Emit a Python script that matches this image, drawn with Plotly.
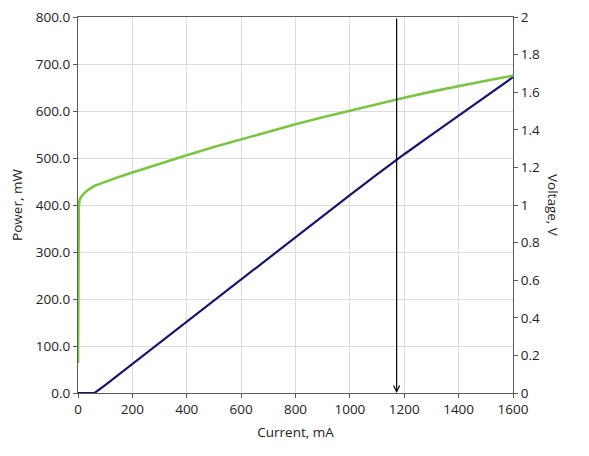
import plotly.graph_objects as go

# Voltage curve (right axis)
v_current = [0, 1, 2, 3, 5, 10, 20, 35, 60, 100, 150, 200, 300, 400, 500, 600, 700,
             800, 900, 1000, 1100, 1200, 1300, 1400, 1500, 1600]
v_voltage = [0.16, 0.55, 0.88, 0.99, 1.02, 1.04, 1.058, 1.078, 1.102, 1.124, 1.149, 1.173,
             1.22, 1.265, 1.308, 1.35, 1.39, 1.43, 1.467, 1.503, 1.538, 1.571, 1.603,
             1.633, 1.661, 1.688]

# Power curve (left axis)
p_current = [0, 61, 100, 200, 300, 400, 500, 600, 700, 800, 900, 1000, 1100, 1200,
             1300, 1400, 1500, 1600]
p_power = [0, 0, 17, 62, 107, 152, 197, 242, 287, 331, 376, 421, 465, 508, 549, 590,
           631, 672]

marker_current = 1172
x_ticks = [0, 200, 400, 600, 800, 1000, 1200, 1400, 1600]

font = "Open Sans, Noto Sans, sans-serif"
axis_col = "#5a5a5a"
grid_col = "#dcdcdc"
title_font = dict(family=font, size=13.5, color="#222")

fig = go.Figure()
fig.add_trace(go.Scatter(x=v_current, y=v_voltage, yaxis="y2", mode="lines",
                         line=dict(color="#7CC444", width=2.6), showlegend=False))
fig.add_trace(go.Scatter(x=p_current, y=p_power, yaxis="y", mode="lines",
                         line=dict(color="#16166A", width=2.2), showlegend=False))

fig.add_annotation(x=marker_current, y=0, ax=marker_current, ay=800,
                   xref="x", yref="y", axref="x", ayref="y", text="",
                   showarrow=True, arrowhead=5, arrowsize=1.0, arrowwidth=1.2,
                   arrowcolor="black", standoff=0)

fig.add_annotation(text="Voltage, V", xref="paper", yref="paper", x=1.0, y=0.5,
                   xanchor="center", yanchor="middle", xshift=40, textangle=90,
                   showarrow=False, font=title_font)

# page body has an 8px margin, so the figure is sized/offset to compensate
fig.update_layout(
    width=573, height=440,
    margin=dict(l=69.5, r=67.5, t=9, b=54.5),
    paper_bgcolor="white", plot_bgcolor="white",
    font=dict(family=font, size=13.5, color="#222"),
    xaxis=dict(range=[0, 1600], tickvals=x_ticks, showgrid=True, gridcolor=grid_col,
               gridwidth=1, showline=True, linecolor=axis_col, linewidth=1.3,
               mirror=True, ticks="outside", ticklen=4, tickcolor=axis_col,
               zeroline=False, automargin=False, ticklabeloverflow="allow",
               title=dict(text="Current, mA", standoff=10, font=title_font)),
    yaxis=dict(range=[0, 800], dtick=100, tickformat=".1f", showgrid=True,
               gridcolor=grid_col, gridwidth=1, showline=True, linecolor=axis_col,
               linewidth=1.3, ticks="outside", ticklen=4, tickcolor=axis_col,
               zeroline=False, automargin=False, ticklabeloverflow="allow",
               title=dict(text="Power, mW", standoff=10, font=title_font)),
    yaxis2=dict(range=[0, 2], dtick=0.2, overlaying="y", side="right", showgrid=False,
                showline=True, linecolor=axis_col, linewidth=1.3, ticks="outside",
                ticklen=4, tickcolor=axis_col, zeroline=False, automargin=False,
                ticklabeloverflow="allow"),
)

fig.write_html("out.html")
